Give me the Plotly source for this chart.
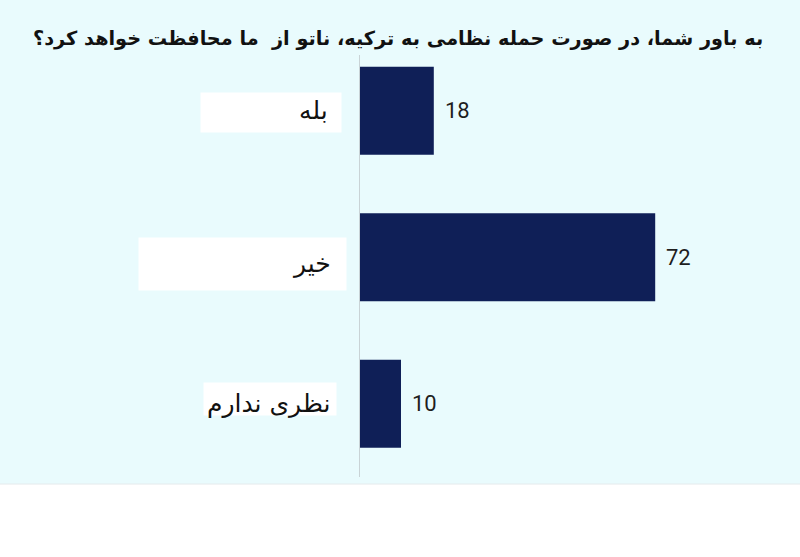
import plotly.graph_objects as go

# survey answers (percent)
categories = ["بله", "خیر", "نظری ندارم"]
values = [18, 72, 10]
title_text = "به باور شما، در صورت حمله نظامی به ترکیه، ناتو از  ما محافظت خواهد کرد؟"

bg = "#e9fbfd"
navy = "#0f1f57"
font_fa = "DejaVu Sans"

fig = go.Figure()

fig.add_trace(go.Bar(
    y=categories,
    x=values,
    orientation="h",
    width=0.6,
    marker=dict(color=navy, line=dict(width=0)),
    hoverinfo="x+y",
))

# value labels a bit away from the bar ends
for cat, v in zip(categories, values):
    fig.add_annotation(
        x=v, y=cat, xref="x", yref="y",
        text=str(v), showarrow=False,
        xanchor="left", xshift=9,
        font=dict(family="Roboto", size=22, color="#1e1e1e"),
    )

# white boxes behind the category labels (pasted-over look of the original)
# (width, height, xshift, yshift) per box
box_style = [(140, 39, -18, -1.5), (207, 52, -13, -7), (132, 32, -23, 5)]
label_shift = [(-30, 0), (-27, -6), (-28, 0)]
for cat, (w, h, bx, by), (tx, ty) in zip(categories, box_style, label_shift):
    fig.add_annotation(
        x=0, y=cat, xref="x", yref="y",
        text=" ", showarrow=False,
        xanchor="right", xshift=bx, yshift=by,
        width=w, height=h, borderpad=0,
        bgcolor="white",
    )
    fig.add_annotation(
        x=0, y=cat, xref="x", yref="y",
        text=cat, showarrow=False,
        xanchor="right", xshift=tx, yshift=ty,
        font=dict(family=font_fa, size=25, color="#111111"),
    )

fig.add_annotation(
    x=0.988, y=1.04, xref="paper", yref="paper",
    xanchor="right", yanchor="middle",
    text="<b>" + title_text + "</b>", showarrow=False,
    font=dict(family=font_fa, size=19.3, color="#111111"),
)

# white strip at the bottom of the image
fig.add_shape(type="rect", xref="paper", yref="paper",
              x0=-1, x1=2, y0=-0.3, y1=-0.0166,
              fillcolor="white", line=dict(width=0), layer="below")
fig.add_shape(type="line", xref="paper", yref="paper",
              x0=-1, x1=2, y0=-0.0166, y1=-0.0166,
              line=dict(color="#e4eaec", width=1))

fig.update_layout(
    width=800, height=557,
    margin=dict(l=360, r=30, t=55, b=80),
    paper_bgcolor=bg,
    plot_bgcolor=bg,
    showlegend=False,
    xaxis=dict(range=[0, 100], visible=False),
    yaxis=dict(range=[2.5, -0.38], showticklabels=False, showgrid=False,
               showline=True, linecolor="#c9d3d6", linewidth=1,
               zeroline=False, ticks=""),
)

fig.write_html("out.html", config={"displayModeBar": False},
               post_script="document.body.style.margin='0';")
